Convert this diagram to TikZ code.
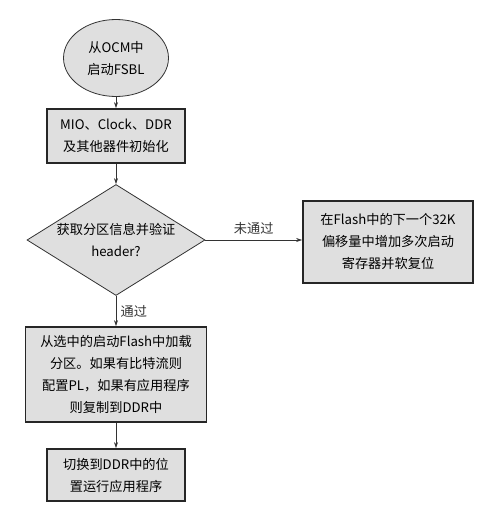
\documentclass[tikz,border=0pt]{standalone}
\usepackage{fontspec}
\setmainfont{Noto Sans CJK SC}
\usetikzlibrary{shapes.geometric,arrows.meta}
\definecolor{boxgray}{HTML}{DFDFDF}
\tikzset{
	stepbox/.style={draw=black!85,line width=1.8pt,fill=boxgray,align=center,inner sep=0pt},
	startnode/.style={ellipse,draw=black!80,line width=0.8pt,fill=boxgray,align=center,minimum width=105pt,minimum height=77pt,inner sep=0pt},
	decide/.style={diamond,draw=black!80,line width=0.8pt,fill=boxgray,align=center,minimum width=178pt,minimum height=111pt,inner sep=0pt,aspect=1.6},
	flow/.style={-{Stealth[length=6pt,width=4pt]},line width=0.6pt,black!80}
}
\begin{document}
\begin{tikzpicture}[x=1pt,y=-1pt,font=\fontsize{13.2}{22}\selectfont]
	\useasboundingbox (0,0) rectangle (499,527);
	% nodes
	\node[startnode] (start) at (116,58) {从OCM中\\启动FSBL};
	\node[stepbox,minimum width=138pt,minimum height=54pt] (init) at (116,136) {MIO、Clock、DDR\\及其他器件初始化};
	\node[decide] (check) at (116,240) {获取分区信息并验证\\header?};
	\node[stepbox,minimum width=170pt,minimum height=82pt] (reset) at (388,242) {在Flash中的下一个32K\\偏移量中增加多次启动\\寄存器并软复位};
	\node[stepbox,minimum width=181pt,minimum height=95pt] (load) at (116,374.5) {从选中的启动Flash中加载\\分区。如果有比特流则\\配置PL，如果有应用程序\\则复制到DDR中};
	\node[stepbox,minimum width=138pt,minimum height=52pt] (run) at (116,475) {切换到DDR中的位\\置运行应用程序};
	% connectors
	\draw[flow] (start)--(init);
	\draw[flow] (init)--(check);
	\draw[flow] (check.east)--(reset.west|-check.east) node[midway,above=2pt]{未通过};
	\draw[flow] (check)--(load) node[midway,right=1pt]{通过};
	\draw[flow] (load)--(run);
\end{tikzpicture}
\end{document}
